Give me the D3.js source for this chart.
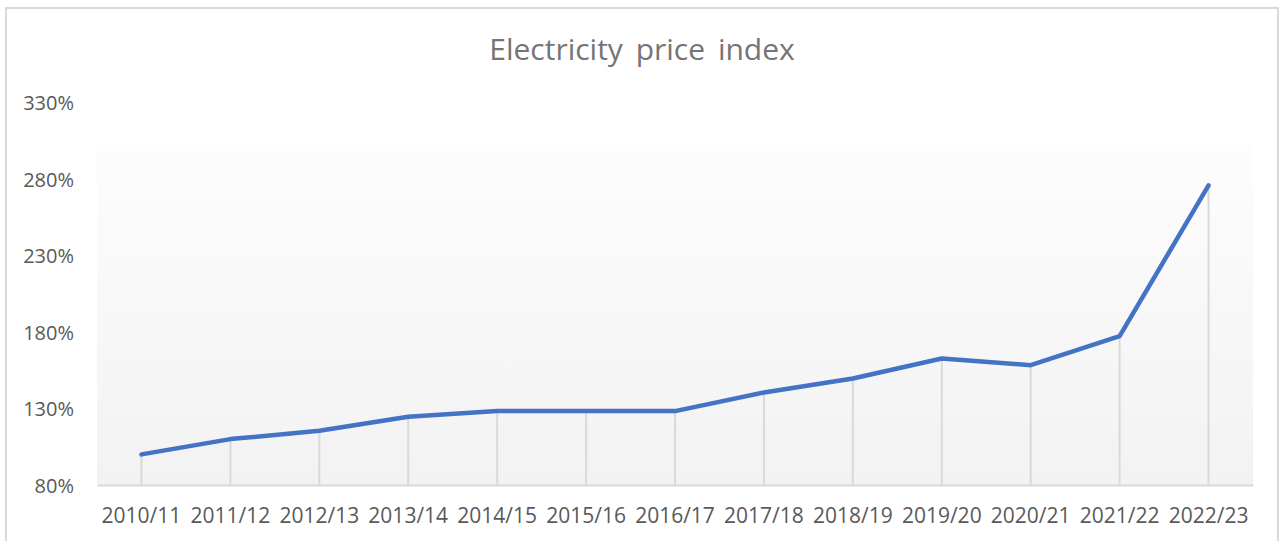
<!DOCTYPE html>
<html>
<head>
<meta charset="utf-8">
<script src="https://cdn.jsdelivr.net/npm/d3@7"></script>
<style>
  html, body { margin: 0; padding: 0; background: #ffffff; }
  svg { display: block; }
</style>
</head>
<body>
<svg id="chart" width="1280" height="541"></svg>
<script>
const categories = ["2010/11","2011/12","2012/13","2013/14","2014/15","2015/16","2016/17","2017/18","2018/19","2019/20","2020/21","2021/22","2022/23"];
const priceIndex = [100, 110, 115.4, 124.6, 128.3, 128.3, 128.3, 140.5, 149.6, 162.7, 158.3, 177.3, 275.8];
const yTicks = [80, 130, 180, 230, 280, 330];
const title = "Electricity price index";

const svg = d3.select("#chart");
const plot = { left: 97, right: 1253, top: 102.5, bottom: 485, fillTop: 145 };
const font = "'Open Sans', sans-serif";

// outer frame
svg.append("rect")
  .attr("x", 6).attr("y", 8).attr("width", 1272).attr("height", 560)
  .attr("fill", "#ffffff").attr("stroke", "#d9d9d9").attr("stroke-width", 2);

// gradient plot fill
const defs = svg.append("defs");
const grad = defs.append("linearGradient").attr("id", "bg").attr("x1", 0).attr("y1", 0).attr("x2", 0).attr("y2", 1);
grad.append("stop").attr("offset", "0%").attr("stop-color", "#fdfdfd");
grad.append("stop").attr("offset", "100%").attr("stop-color", "#f2f2f2");
svg.append("rect")
  .attr("x", plot.left).attr("y", plot.fillTop)
  .attr("width", plot.right - plot.left).attr("height", plot.bottom - plot.fillTop)
  .attr("fill", "url(#bg)");

const x = d3.scaleBand().domain(categories).range([plot.left, plot.right]).padding(0);
const y = d3.scaleLinear().domain([80, 330]).range([plot.bottom, plot.top]);

// title
svg.append("text")
  .attr("x", 642).attr("y", 60)
  .attr("text-anchor", "middle")
  .attr("font-family", font).attr("font-size", 30)
  .attr("fill", "#757575")
  .attr("word-spacing", 5)
  .text(title);

// y axis labels
const yAxis = d3.axisLeft(y).tickValues(yTicks).tickSize(0).tickPadding(0).tickFormat(d => d + "%");
const gy = svg.append("g").attr("transform", `translate(74,0)`).call(yAxis);
gy.select(".domain").remove();
gy.selectAll("text")
  .attr("font-family", font).attr("font-size", 20).attr("fill", "#595959")
  .attr("dy", "0.35em");

// drop lines
svg.append("g").selectAll("line")
  .data(categories)
  .join("line")
  .attr("x1", d => x(d) + x.bandwidth() / 2)
  .attr("x2", d => x(d) + x.bandwidth() / 2)
  .attr("y1", (d, i) => y(priceIndex[i]))
  .attr("y2", plot.bottom)
  .attr("stroke", "#d9d9d9").attr("stroke-width", 2);

// x axis
const xAxis = d3.axisBottom(x).tickSize(0).tickPadding(0);
const gx = svg.append("g").attr("transform", `translate(0,${plot.bottom})`).call(xAxis);
gx.select(".domain").attr("stroke", "#d9d9d9").attr("stroke-width", 2);
gx.selectAll("text")
  .attr("font-family", font).attr("font-size", 21).attr("fill", "#595959")
  .attr("dy", 0).attr("y", 38);

// line
const line = d3.line()
  .x((d, i) => x(categories[i]) + x.bandwidth() / 2)
  .y(d => y(d));
svg.append("path")
  .datum(priceIndex)
  .attr("d", line)
  .attr("fill", "none")
  .attr("stroke", "#4472c4")
  .attr("stroke-width", 4.5)
  .attr("stroke-linejoin", "round")
  .attr("stroke-linecap", "round");
</script>
</body>
</html>
